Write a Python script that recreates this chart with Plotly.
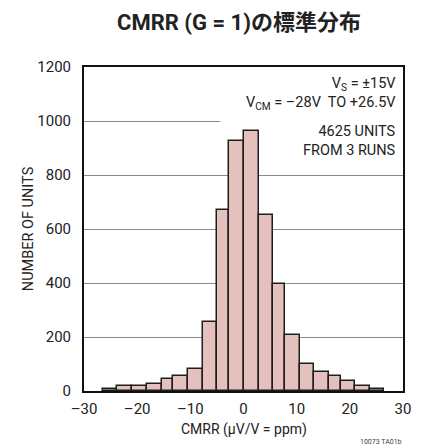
import plotly.graph_objects as go

# Histogram data
bin_edges = [-26.5, -23.75, -21.0, -18.2, -15.4, -13.2, -10.4, -7.66, -4.93, -2.7, 0.0,
             2.85, 5.5, 7.85, 10.6, 13.3, 16.0, 18.4, 21.0, 23.75, 26.5]
counts = [9, 18, 18, 27, 44, 56, 81, 254, 672, 926, 962, 652, 398, 207, 99, 72, 56, 36, 17, 9]
x_ticks = [-30, -20, -10, 0, 10, 20, 30]
y_ticks = [0, 200, 400, 600, 800, 1000, 1200]

title_text = "CMRR (G = 1)の標準分布"
x_title = "CMRR (µV/V = ppm)"
y_title = "NUMBER OF UNITS"
note_blocks = ["V<sub>S</sub> = ±15V<br>V<sub>CM</sub> = –28V  TO +26.5V", "4625 UNITS<br>FROM 3 RUNS"]
note_y = [1101, 927]

centers = [(a + b) / 2 for a, b in zip(bin_edges[:-1], bin_edges[1:])]
widths = [b - a for a, b in zip(bin_edges[:-1], bin_edges[1:])]

FONT = "Roboto, sans-serif"

fig = go.Figure()
fig.add_trace(go.Bar(
    x=centers, y=counts, width=widths,
    marker=dict(color="#e4c1bc", line=dict(color="#1e1e1e", width=1.5)),
    showlegend=False,
))

# white box behind the notes (hides gridlines, under the bars)
fig.add_shape(type="rect", xref="x", yref="y", x0=-4.4, x1=30, y0=830, y1=1200,
              fillcolor="white", line=dict(width=0), layer="between")

fig.update_layout(
    width=423, height=448,
    margin=dict(l=84, r=17, t=67, b=57),
    paper_bgcolor="white", plot_bgcolor="white",
    bargap=0,
    font=dict(family=FONT, size=15, color="#222"),
    title=dict(text="<b>" + title_text + "</b>", x=0.565, xanchor="center", y=0.951, yanchor="middle",
               font=dict(family="Roboto, Noto Sans CJK JP, sans-serif", size=22, color="#222")),
)
fig.update_xaxes(range=[-30, 30], tickvals=x_ticks,
                 ticktext=[("–" + str(-v)) if v < 0 else str(v) for v in x_ticks],
                 showgrid=False, zeroline=False, showline=True, linecolor="#111", linewidth=2,
                 mirror=True, ticks="", ticklabelstandoff=3, tickfont=dict(size=15))
fig.update_yaxes(range=[0, 1200], tickvals=y_ticks, showgrid=True, gridcolor="#8a8a8a", gridwidth=1.3,
                 zeroline=False, showline=True, linecolor="#111", linewidth=2, mirror=True,
                 ticks="", ticklabelstandoff=8, tickfont=dict(size=15))

fig.add_annotation(text=x_title, xref="paper", yref="paper", x=0.5, y=-0.12, xanchor="center",
                   yanchor="middle", showarrow=False, font=dict(size=14))
fig.add_annotation(text=y_title, xref="paper", yref="paper", x=-0.175, y=0.5, xanchor="center",
                   yanchor="middle", showarrow=False, textangle=-90, font=dict(size=14.5))
for t, yv in zip(note_blocks, note_y):
    fig.add_annotation(text=t, xref="x", yref="y", x=29.0, y=yv, xanchor="right", yanchor="middle",
                       align="right", showarrow=False, font=dict(size=14.5))
fig.add_annotation(text="10073 TA01b", xref="paper", yref="paper", x=1.003, y=-0.14, xanchor="right",
                   yanchor="top", showarrow=False, font=dict(size=7, color="#444"))

fig.write_html("out.html", config={"displayModeBar": False},
               post_script="document.body.style.margin='0';")
